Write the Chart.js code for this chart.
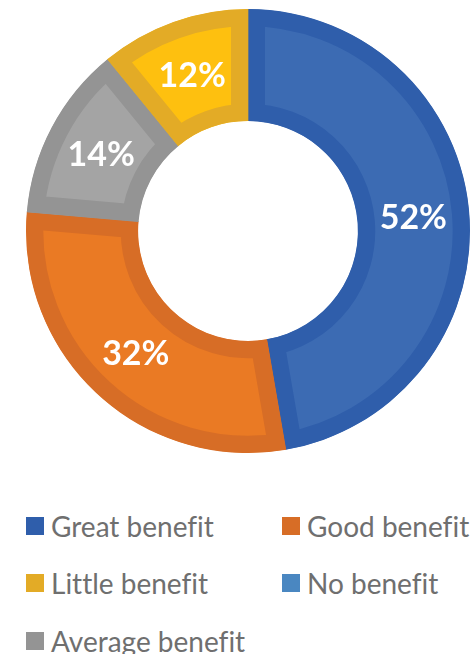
<!DOCTYPE html>
<html>
<head>
<meta charset="utf-8">
<script src="https://cdn.jsdelivr.net/npm/chart.js@4"></script>
<style>
    body { margin: 0; background: #fff; width: 473px; height: 654px; overflow: hidden; position: relative; }
    #wrap { position: absolute; left: 0; top: 0; width: 473px; height: 462px; }
    #legend {
        position: absolute; left: 26px; top: 497px;
        display: grid; grid-template-columns: 256px auto; grid-auto-rows: 57.5px;
        font-family: Lato, sans-serif; font-size: 28px; color: #6f6f6f;
        font-variant-ligatures: none;
    }
    .item { display: flex; align-items: center; white-space: nowrap; }
    .box { width: 18px; height: 18px; margin-right: 7px; flex: none; }
</style>
</head>
<body>
<div id="wrap"><canvas id="chart"></canvas></div>
<div id="legend"></div>
<script>
// Kategoriler (saat yönünde, tepeden başlayarak)
const categories = ['Great benefit', 'Good benefit', 'Average benefit', 'Little benefit', 'No benefit'];
const values = [52, 32, 14, 12, 0];
// Lejant sırası
const legendOrder = ['Great benefit', 'Good benefit', 'Little benefit', 'No benefit', 'Average benefit'];

const fillColors = ['#3c6bb3', '#ea7a24', '#a4a4a4', '#fec00f', '#4a87c1'];
const edgeColors = ['#2f5eab', '#d76d26', '#949494', '#e3ab26', '#4a87c1'];

// Dilim ortasına yüzde etiketi
const valueLabels = {
    id: 'valueLabels',
    afterDatasetsDraw(chart) {
        const ctx = chart.ctx;
        const meta = chart.getDatasetMeta(0);
        ctx.save();
        ctx.fillStyle = '#fff';
        ctx.font = 'bold 34px Lato, sans-serif';
        ctx.textAlign = 'center';
        ctx.textBaseline = 'middle';
        meta.data.forEach((arc, i) => {
            if (!values[i]) return;
            const p = arc.tooltipPosition();
            ctx.fillText(values[i] + '%', p.x, p.y + 1);
        });
        ctx.restore();
    }
};

new Chart(document.getElementById('chart').getContext('2d'), {
    type: 'doughnut',
    data: {
        labels: categories,
        datasets: [{
            data: values,
            backgroundColor: fillColors,
            borderColor: edgeColors,
            borderWidth: 17,
            borderAlign: 'inner',
            borderJoinStyle: 'miter'
        }]
    },
    options: {
        responsive: true,
        maintainAspectRatio: false,
        animation: false,
        cutout: '49.5%',
        layout: { padding: { left: 26, right: 3, top: 9, bottom: 9 } },
        plugins: {
            legend: { display: false },
            tooltip: { enabled: false }
        }
    },
    plugins: [valueLabels]
});

// HTML lejant
const legend = document.getElementById('legend');
legendOrder.forEach(name => {
    const i = categories.indexOf(name);
    const item = document.createElement('div');
    item.className = 'item';
    item.innerHTML = '<span class="box" style="background:' + edgeColors[i] + '"></span>' + name;
    legend.appendChild(item);
});
</script>
</body>
</html>
